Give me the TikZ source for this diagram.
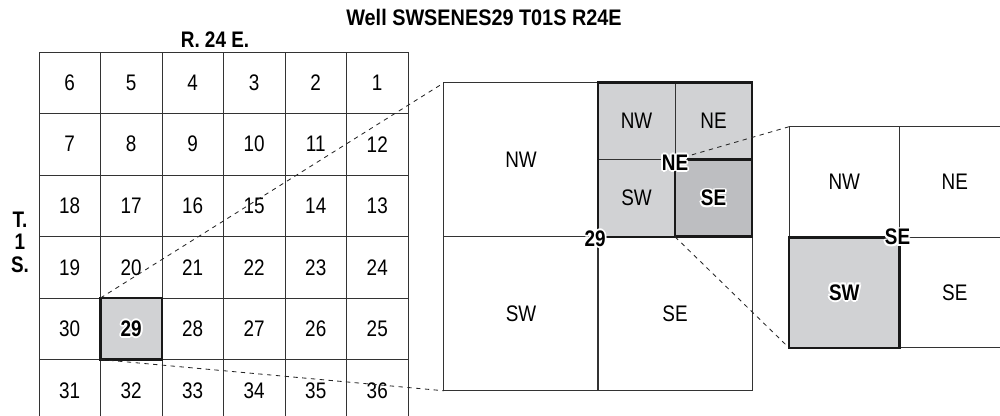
\documentclass[tikz,border=0pt]{standalone}
\usepackage{fontspec}
\setmainfont{Liberation Sans}[FakeStretch=0.84]
\usetikzlibrary{calc}
\definecolor{secgray}{RGB}{209,210,212}
\definecolor{qgray}{RGB}{189,190,193}
\colorlet{gridline}{black!80}
\tikzset{
  box/.style={draw=gridline, line width=0.7pt, minimum width=#1, minimum height=#1,
    inner sep=0pt, outer sep=0pt, font=\fontsize{16}{16}\selectfont},
  cell/.style={box=1.5375cm},
  quad/.style={box=3.85cm},
  sub/.style={box=1.925cm},
  rquad/.style={box=2.7625cm},
  heavy/.style={draw=black!90, line width=1.8pt},
  lbl/.style={inner sep=0pt, font=\fontsize{16}{16}\selectfont\bfseries},
  link/.style={black!85, line width=0.6pt, dash pattern=on 0.11cm off 0.11cm},
}
% bold label with a white halo
\newcommand{\halolabel}[3]{%
  \foreach \a in {0,45,...,315}
    \node[lbl, text=white] at ($(#2)+(\a:1.4pt)$) {#3};
  \node[lbl] (#1) at (#2) {#3};}

\begin{document}
\begin{tikzpicture}[x=0.025cm, y=-0.025cm]
    \useasboundingbox (0,0) rectangle (1000,415);
    \clip (0,0) rectangle (1000,415);

    \def\gx{39};
    \def\gy{52};
    \def\cs{61.5};

    % township grid
    \foreach \r in {0,...,5}
      \foreach \c in {0,...,5} {
        \pgfmathtruncatemacro\n{mod(\r,2)==0 ? 6*\r+6-\c : 6*\r+1+\c}
        \node[cell] (s\n) at ({\gx+\cs*(\c+0.5)}, {\gy+\cs*(\r+0.5)}) {\n};
      }
    \node[cell, heavy, fill=secgray] (sel29) at (s29) {};

    \node[lbl, xscale=1.05, transform shape] (title) at (484,17) {Well SWSENES29 T01S R24E};
    \node[lbl] (range) at (215,40) {R. 24 E.};
    \node[lbl, align=center, font=\fontsize{16}{16}\selectfont\bfseries] (town) at (20,242) {T.\\1\\S.};

    % section 29
    \node[quad] (mNW) at (521,159.75) {NW};
    \node[quad] (mSW) at (521,313.75) {SW};
    \node[quad] (mSE) at (675,313.75) {SE};
    \node[sub, fill=secgray] (nNW) at (636.5,121.25) {NW};
    \node[sub, fill=secgray] (nNE) at (713.5,121.25) {NE};
    \node[sub, fill=secgray] (nSW) at (636.5,198.25) {SW};
    \node[sub, heavy, fill=qgray] (nSE) at (713.5,198.25) {};
    \node[quad, heavy] (mNE) at (675,159.75) {};

    % quarter-quarter
    \node[rquad, text depth=-12pt] (rNW) at (844.25,182) {NW};
    \node[rquad, text depth=-12pt] (rNE) at (954.75,182) {NE};
    \node[rquad] (rSE) at (954.75,292.5) {SE};
    \node[rquad, heavy, fill=secgray] (rSW) at (844.25,292.5) {};

    % zoom lines
    \draw[link] (sel29.north west) -- (mNW.north west);
    \draw[link] (sel29.south west) -- (mSW.south west);
    \draw[link] (nSE.north west) -- (rNW.north west);
    \draw[link] (nSE.south west) -- (rSW.south west);

    \halolabel{l29}{sel29}{29}
    \halolabel{lsec}{$(mNW.south east)+(-3,2)$}{29}
    \halolabel{lne}{$(nSE.north west)+(0,3)$}{NE}
    \halolabel{lse}{nSE}{SE}
    \halolabel{lsw}{rSW}{SW}
    \halolabel{lrse}{$(rSW.north east)+(-2,0)$}{SE}

\end{tikzpicture}
\end{document}
